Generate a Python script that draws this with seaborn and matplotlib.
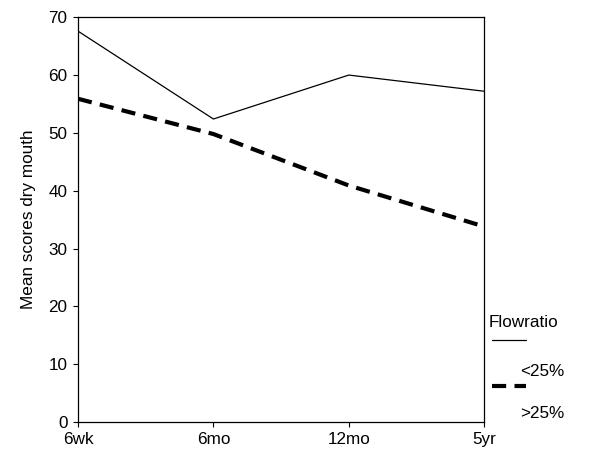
import matplotlib
matplotlib.use("Agg")
import matplotlib.pyplot as plt
import seaborn as sns
import pandas as pd
from matplotlib.lines import Line2D

timepoints = ["6wk", "6mo", "12mo", "5yr"]
low_flow = [67.6, 52.4, 60.0, 57.2]    # <25%
high_flow = [55.9, 49.8, 40.9, 33.8]   # >25%
groups = ["<25%", ">25%"]
yticks = [0, 10, 20, 30, 40, 50, 60, 70]

df = pd.DataFrame({
    "time": timepoints * 2,
    "score": low_flow + high_flow,
    "Flowratio": [groups[0]] * 4 + [groups[1]] * 4,
})

sns.set_style("white")
plt.rcParams["font.family"] = ["Liberation Sans", "DejaVu Sans"]
plt.rcParams["text.color"] = "black"
plt.rcParams["axes.labelcolor"] = "black"

fig = plt.figure(figsize=(6, 4.61), dpi=100)
ax = fig.add_axes([0.13, 0.0846, 0.677, 0.878])

sns.lineplot(data=df, x="time", y="score", hue="Flowratio", style="Flowratio",
             palette={groups[0]: "black", groups[1]: "black"},
             dashes={groups[0]: "", groups[1]: (3.4, 2.0)},
             size="Flowratio", sizes={groups[0]: 0.9, groups[1]: 3.0},
             legend=False, ax=ax, sort=False)

ax.set_xlim(0, 3)
ax.set_ylim(0, 70)
ax.set_yticks(yticks)
ax.set_xticks(range(len(timepoints)))
ax.set_xticklabels(timepoints)
ax.set_xlabel("")
ax.set_ylabel("Mean scores dry mouth", fontsize=12.3, labelpad=9, color="black")
ax.tick_params(axis="both", direction="out", length=3.5, width=0.8,
               labelsize=12.3, colors="black", pad=4)
ax.tick_params(axis="both", bottom=True, left=True)
for s in ax.spines.values():
    s.set_color("black")
    s.set_linewidth(0.9)

# Legend drawn manually to mimic the original layout
fs = 12.3
fig.text(489 / 600, 1 - 322 / 461, "Flowratio", fontsize=fs, va="center", ha="left", color="black")
fig.add_artist(Line2D([492 / 600, 526 / 600], [1 - 340 / 461, 1 - 340 / 461],
                      color="black", lw=0.9))
fig.text(520 / 600, 1 - 371 / 461, groups[0], fontsize=fs, va="center", ha="left", color="black")
fig.add_artist(Line2D([492 / 600, 526 / 600], [1 - 386 / 461, 1 - 386 / 461],
                      color="black", lw=3.0, linestyle=(0, (3.4, 2.0))))
fig.text(520 / 600, 1 - 413 / 461, groups[1], fontsize=fs, va="center", ha="left", color="black")

fig.savefig("out.png", dpi=100)
